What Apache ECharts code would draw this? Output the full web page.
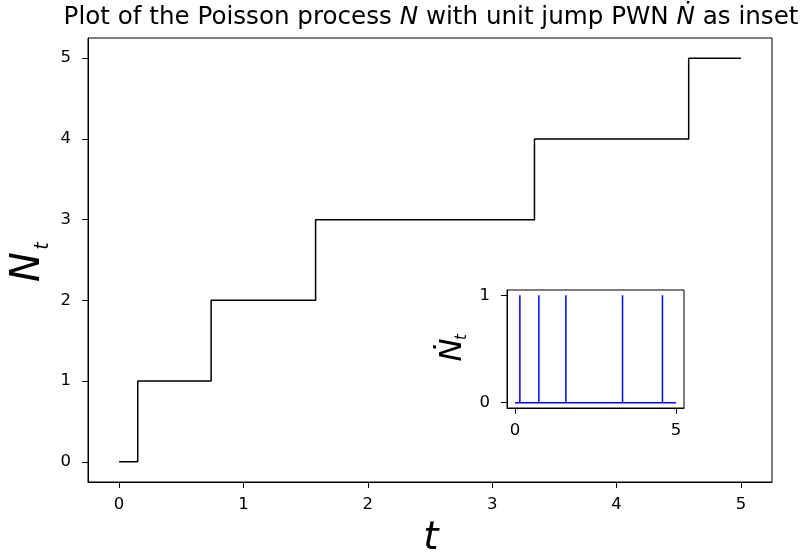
<!DOCTYPE html>
<html><head><meta charset="utf-8">
<script src="https://cdn.jsdelivr.net/npm/echarts@6/dist/echarts.min.js"></script>
<style>html,body{margin:0;padding:0;background:#fff}#c{width:801px;height:559px}</style>
</head><body><div id="c"></div>
<script>
// Jump times of the Poisson process
const jumpTimes = [0.15, 0.74, 1.58, 3.34, 4.58];
const tStart = 0;
const tEnd = 5;
const mainXTicks = [0, 1, 2, 3, 4, 5];
const mainYTicks = [0, 1, 2, 3, 4, 5];
const insetXTicks = [0, 5];
const insetYTicks = [0, 1];

// counting process N_t as step data
const stepData = [[tStart, 0]];
jumpTimes.forEach((t, i) => stepData.push([t, i + 1]));
stepData.push([tEnd, jumpTimes.length]);

// white noise: baseline with unit spikes
const pwnData = [[tStart, 0]];
jumpTimes.forEach(t => { pwnData.push([t, 0]); pwnData.push([t, 1]); pwnData.push([t, 0]); });
pwnData.push([tEnd, 0]);

const FONT = 'DejaVu Sans';
const tickLabel = { color: '#000', fontFamily: FONT, fontSize: 16.5 };
const tick = { show: true, length: 6, lineStyle: { color: '#000', width: 1 } };

const chart = echarts.init(document.getElementById('c'), null, { renderer: 'canvas' });
chart.setOption({
  animation: false,
  backgroundColor: '#fff',
  title: {
    text: '{a|Plot of the Poisson process }{i|N}{a| with unit jump PWN }{i|Ṅ}{a| as inset}',
    left: 431, textAlign: 'center', top: 5, padding: 0,
    textStyle: {
      fontWeight: 'normal',
      rich: {
        a: { fontFamily: FONT, fontSize: 24.6, fontWeight: 'normal', color: '#000' },
        i: { fontFamily: FONT, fontSize: 24.6, fontWeight: 'normal', color: '#000', fontStyle: 'italic' }
      }
    }
  },
  grid: [
    { left: 88, top: 38, width: 684, height: 444, show: true, borderColor: '#000', borderWidth: 1, backgroundColor: '#fff' },
    { left: 507, top: 290, width: 177, height: 118, show: true, borderColor: '#000', borderWidth: 1, backgroundColor: '#fff', z: 5 }
  ],
  xAxis: [
    { type: 'value', gridIndex: 0, min: -0.25, max: 5.25,
      splitLine: { show: false },
      axisLine: { show: true, onZero: false, lineStyle: { color: '#000' } },
      axisTick: { ...tick, customValues: mainXTicks },
      axisLabel: { ...tickLabel, margin: 14, customValues: mainXTicks }
    },
    { type: 'value', gridIndex: 1, min: -0.25, max: 5.25, z: 6,
      splitLine: { show: false },
      axisLine: { show: true, onZero: false, lineStyle: { color: '#000' } },
      axisTick: { ...tick, customValues: insetXTicks },
      axisLabel: { ...tickLabel, margin: 14, customValues: insetXTicks }
    }
  ],
  yAxis: [
    { type: 'value', gridIndex: 0, min: -0.25, max: 5.25,
      splitLine: { show: false },
      axisLine: { show: true, onZero: false, lineStyle: { color: '#000' } },
      axisTick: { ...tick, customValues: mainYTicks },
      axisLabel: { ...tickLabel, margin: 17, customValues: mainYTicks }
    },
    { type: 'value', gridIndex: 1, min: -0.05, max: 1.05, z: 6,
      splitLine: { show: false },
      axisLine: { show: true, onZero: false, lineStyle: { color: '#000' } },
      axisTick: { ...tick, customValues: insetYTicks },
      axisLabel: { ...tickLabel, margin: 17, customValues: insetYTicks }
    }
  ],
  series: [
    { type: 'line', xAxisIndex: 0, yAxisIndex: 0, data: stepData, step: 'end',
      showSymbol: false, symbol: 'none', lineStyle: { color: '#000', width: 1.5 } },
    { type: 'line', xAxisIndex: 1, yAxisIndex: 1, data: pwnData, z: 7,
      showSymbol: false, symbol: 'none', lineStyle: { color: '#0000ff', width: 1.5 } }
  ],
  graphic: [
    { type: 'text', x: 431, y: 539, style: { text: 't', fontFamily: FONT, fontStyle: 'italic', fontSize: 39, fill: '#000', textAlign: 'center', textVerticalAlign: 'middle' } },
    { type: 'group', x: 29, y: 267, rotation: Math.PI / 2, children: [
      { type: 'text', x: 0, y: 0, style: { text: 'N', fontFamily: FONT, fontStyle: 'italic', fontSize: 40, fill: '#000', textAlign: 'center', textVerticalAlign: 'middle' } },
      { type: 'text', x: 21, y: 14, style: { text: 't', fontFamily: FONT, fontStyle: 'italic', fontSize: 19, fill: '#000', textAlign: 'center', textVerticalAlign: 'middle' } }
    ] },
    { type: 'group', x: 453, y: 350, rotation: Math.PI / 2, z: 10, children: [
      { type: 'text', x: 0, y: 0, style: { text: 'Ṅ', fontFamily: FONT, fontStyle: 'italic', fontSize: 31, fill: '#000', textAlign: 'center', textVerticalAlign: 'middle' } },
      { type: 'text', x: 13, y: 9, style: { text: 't', fontFamily: FONT, fontStyle: 'italic', fontSize: 15, fill: '#000', textAlign: 'center', textVerticalAlign: 'middle' } }
    ] }
  ]
});
</script></body></html>
